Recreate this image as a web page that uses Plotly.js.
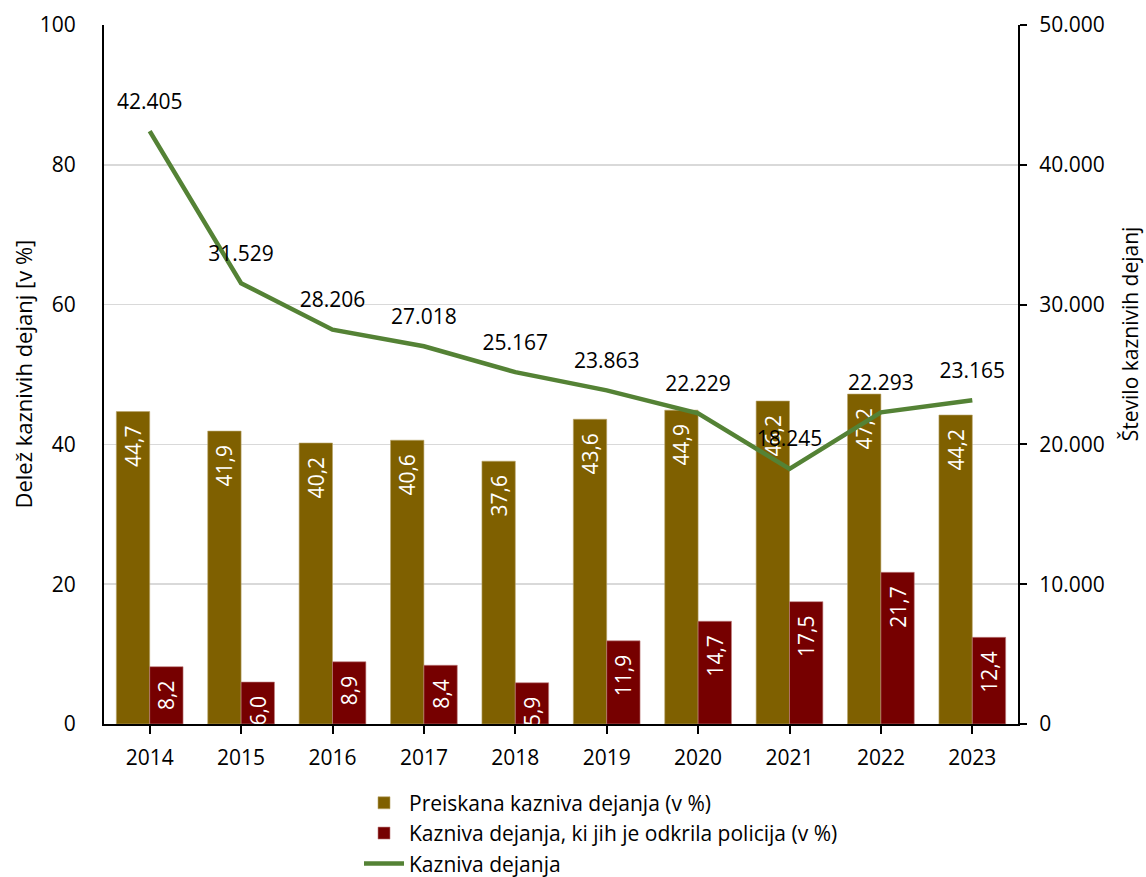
<!DOCTYPE html>
<html>
<head>
<meta charset="utf-8">
<script src="https://cdn.plot.ly/plotly-3.0.1.min.js"></script>
<style>html,body{margin:0;padding:0;background:#fff;}#chart{width:1146px;height:877px;}</style>
</head>
<body>
<div id="chart"></div>
<script>
const years = ['2014','2015','2016','2017','2018','2019','2020','2021','2022','2023'];
const preiskana = [44.7, 41.9, 40.2, 40.6, 37.6, 43.6, 44.9, 46.2, 47.2, 44.2];
const policija = [8.2, 6.0, 8.9, 8.4, 5.9, 11.9, 14.7, 17.5, 21.7, 12.4];
const kazniva = [42405, 31529, 28206, 27018, 25167, 23863, 22229, 18245, 22293, 23165];
const leftTicks = [0, 20, 40, 60, 80, 100];
const rightTicks = [0, 10000, 20000, 30000, 40000, 50000];

const FONT = '"Open Sans", sans-serif';
const NB = '\u00a0\u00a0';

const traces = [
  {
    type: 'bar', name: 'Preiskana kazniva dejanja (v %)', x: years, y: preiskana,
    marker: {color: '#7F6000', line: {color: '#B8A46A', width: 0.6}},
    texttemplate: '%{y:.1f}' + NB, textposition: 'inside', insidetextanchor: 'end',
    textangle: -90, constraintext: 'none',
    textfont: {color: '#FFFFFF', size: 21, family: FONT},
    hoverinfo: 'skip'
  },
  {
    type: 'bar', name: 'Kazniva dejanja, ki jih je odkrila policija (v %)', x: years, y: policija,
    marker: {color: '#760000', line: {color: '#C08080', width: 0.6}},
    texttemplate: '%{y:.1f}' + NB, textposition: 'inside', insidetextanchor: 'end',
    textangle: -90, constraintext: 'none',
    textfont: {color: '#FFFFFF', size: 21, family: FONT},
    hoverinfo: 'skip'
  },
  {
    type: 'scatter', mode: 'lines+markers+text', name: 'Kazniva dejanja', x: years, y: kazniva, yaxis: 'y2',
    line: {color: '#548235', width: 4.5},
    marker: {size: 26, color: 'rgba(0,0,0,0)', line: {width: 0}},
    texttemplate: '%{y:,d}', textposition: 'top center', cliponaxis: false,
    textfont: {size: 21, color: '#000000', family: FONT},
    hoverinfo: 'skip'
  }
];

const layout = {
  width: 1146, height: 877,
  margin: {l: 104, r: 128, t: 25, b: 153},
  paper_bgcolor: '#FFFFFF', plot_bgcolor: '#FFFFFF',
  separators: ',.',
  font: {family: FONT, size: 21, color: '#000000'},
  barmode: 'group', bargap: 0.27, bargroupgap: 0,
  showlegend: true,
  legend: {
    orientation: 'v', xref: 'paper', yref: 'container',
    x: 0.279, xanchor: 'left', y: 0.1076, yanchor: 'top',
    font: {size: 21, family: FONT, color: '#000000'},
    itemwidth: 40, tracegroupgap: 0, bgcolor: 'rgba(0,0,0,0)'
  },
  xaxis: {
    type: 'category', showline: true, linecolor: '#000000', linewidth: 2,
    ticks: 'outside', ticklen: 8, tickcolor: '#000000', tickwidth: 2,
    tickfont: {size: 21, family: FONT}, showgrid: false, zeroline: false,
    ticklabelstandoff: 6, range: [-0.5, 9.5]
  },
  yaxis: {
    range: [0, 100], tickvals: leftTicks, ticktext: leftTicks.map(String),
    showline: true, linecolor: '#000000', linewidth: 2, ticks: '',
    showgrid: true, gridcolor: '#D9D9D9', gridwidth: 1.5, zeroline: false,
    tickfont: {size: 21, family: FONT}, ticklabelstandoff: 22
  },
  yaxis2: {
    overlaying: 'y', side: 'right', range: [0, 50000], tickvals: rightTicks,
    tickformat: ',d', showline: true, linecolor: '#000000', linewidth: 2,
    ticks: 'outside', ticklen: 7, tickcolor: '#000000', tickwidth: 2,
    showgrid: false, zeroline: false, tickfont: {size: 21, family: FONT},
    ticklabelstandoff: 8
  },
  annotations: [
    {text: 'Delež kaznivih dejanj [v %]', textangle: -90, xref: 'paper', yref: 'paper',
     x: -0.0897, y: 0.5, xanchor: 'center', yanchor: 'middle', showarrow: false,
     font: {size: 22, family: FONT, color: '#000000'}},
    {text: 'Število kaznivih dejanj', textangle: -90, xref: 'paper', yref: 'paper',
     x: 1.1225, y: 0.559, xanchor: 'center', yanchor: 'middle', showarrow: false,
     font: {size: 21, family: FONT, color: '#000000'}}
  ]
};

Plotly.newPlot('chart', traces, layout, {staticPlot: true, displayModeBar: false});
</script>
</body>
</html>
